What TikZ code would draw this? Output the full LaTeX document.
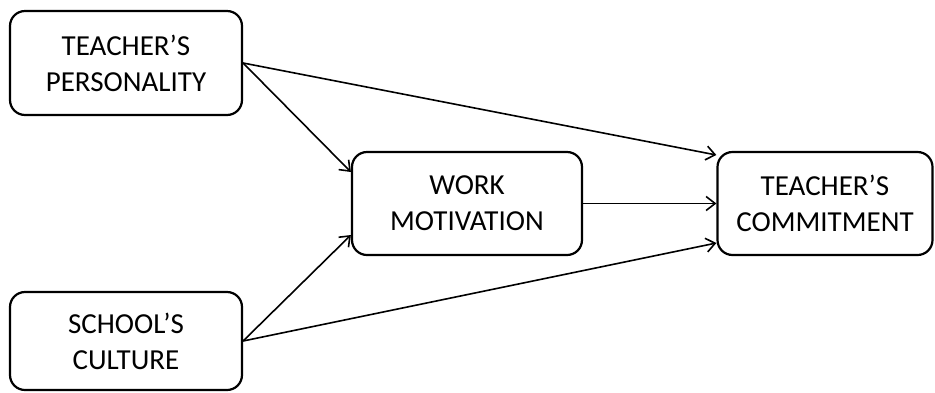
\documentclass[tikz,border=0pt]{standalone}
\usepackage{fontspec}
\setmainfont{Carlito}
\usetikzlibrary{arrows.meta}
\tikzset{
  box/.style={draw, line width=2.2pt, rounded corners=15pt, align=center,
    font=\fontsize{29}{36}\selectfont, inner sep=0pt},
  link/.style={line width=1.6pt, -{Straight Barb[length=9pt,width=14pt,line width=1.6pt]}}
}
\begin{document}
\begin{tikzpicture}[x=1pt,y=-1pt]
\useasboundingbox (0,0) rectangle (935,392);
\node[box, minimum width=232pt, minimum height=104pt] (tp) at (126,63) {TEACHER’S\\PERSONALITY};
\node[box, minimum width=232pt, minimum height=98pt] (sc) at (126,341) {SCHOOL’S\\CULTURE};
\node[box, minimum width=230pt, minimum height=103pt] (wm) at (467,203.5) {WORK\\MOTIVATION};
\node[box, minimum width=215pt, minimum height=103pt] (tc) at (825,203.5) {TEACHER’S\\COMMITMENT};
\draw[link] (tp.east) -- ([yshift=48.5pt]tc.west);
\draw[link] (tp.east) -- ([yshift=31.5pt]wm.west);
\draw[link] (sc.east) -- ([yshift=-31.5pt]wm.west);
\draw[link] (sc.east) -- ([yshift=-39.5pt]tc.west);
\draw[link] (wm.east) -- (tc.west);
\end{tikzpicture}
\end{document}
